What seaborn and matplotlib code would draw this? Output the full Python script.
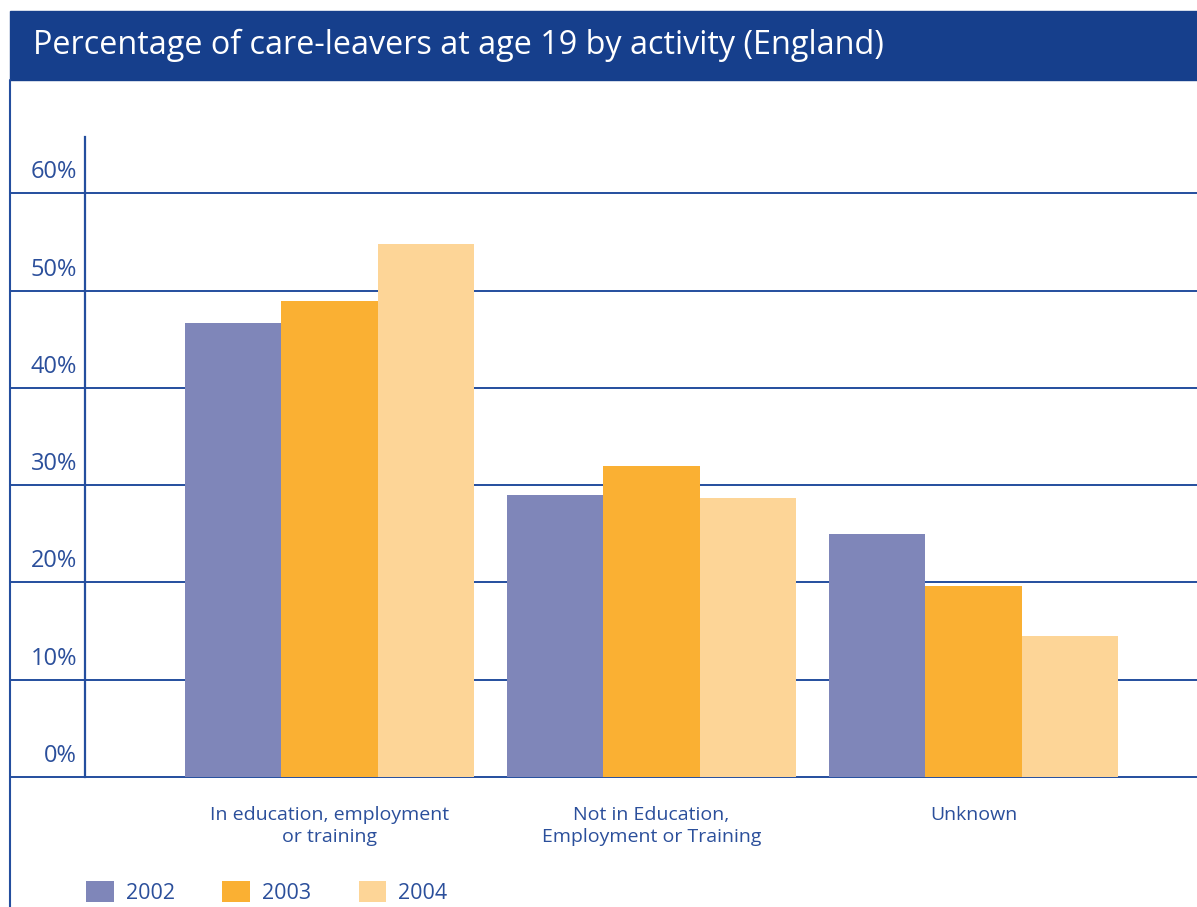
import matplotlib
matplotlib.use("Agg")
import matplotlib.pyplot as plt
import matplotlib.transforms as mtransforms
from matplotlib.patches import Rectangle
from matplotlib.lines import Line2D
import seaborn as sns
import pandas as pd

# ---- data ----
categories = ["In education, employment\nor training",
              "Not in Education,\nEmployment or Training",
              "Unknown"]
years = ["2002", "2003", "2004"]
values_2002 = [46.7, 29.0, 25.0]
values_2003 = [48.9, 32.0, 19.6]
values_2004 = [54.8, 28.7, 14.5]
y_ticks = [0, 10, 20, 30, 40, 50, 60]
y_tick_labels = ["0%", "10%", "20%", "30%", "40%", "50%", "60%"]
title = "Percentage of care-leavers at age 19 by activity (England)"

rows = []
for yr, vals in zip(years, [values_2002, values_2003, values_2004]):
    for c, v in zip(categories, vals):
        rows.append({"activity": c, "year": yr, "pct": v})
df = pd.DataFrame(rows)

# ---- style ----
sns.set_theme(style="white")
plt.rcParams["font.family"] = ["Open Sans", "DejaVu Sans"]

BLUE = "#244e9e"
TEXT = "#2b4f9b"
BANNER = "#163f8c"
palette = {"2002": "#7f86b9", "2003": "#fab033", "2004": "#fdd597"}

W, H = 1197, 907
fig = plt.figure(figsize=(W / 100, H / 100), dpi=100)
fig.patch.set_facecolor("white")

ax_left, ax_right, ax_top, ax_bot = 85, 1197, 137, 777
ax = fig.add_axes([ax_left / W, 1 - ax_bot / H, (ax_right - ax_left) / W, (ax_bot - ax_top) / H])

sns.barplot(data=df, x="activity", y="pct", hue="year", order=categories,
            hue_order=years, palette=palette, width=0.9, saturation=1,
            linewidth=0, ax=ax, zorder=3)

ax.set_ylim(0, 65.8)
ax.set_xlim(-0.759, 2.694)
ax.set_xlabel("")
ax.set_ylabel("")

for s in ["top", "right", "bottom"]:
    ax.spines[s].set_visible(False)
ax.spines["left"].set_color(BLUE)
ax.spines["left"].set_linewidth(1.6)

# gridlines extending to the left border
xleft = (10 - ax_left) / (ax_right - ax_left)
ytrans = ax.get_yaxis_transform()
for v in y_ticks:
    ax.plot([xleft, 1], [v, v], transform=ytrans, clip_on=False,
            color=BLUE, lw=1.4, zorder=1)

# y tick labels above the lines
ax.set_yticks(y_ticks)
ax.set_yticklabels([])
ax.tick_params(axis="y", length=0)
lab_trans = mtransforms.offset_copy(ytrans, fig=fig, x=-8, y=9, units="dots")
for v, lab in zip(y_ticks, y_tick_labels):
    ax.text(0, v, lab, transform=lab_trans, ha="right", va="bottom",
            fontsize=17, color=TEXT, clip_on=False)

# x tick labels
ax.tick_params(axis="x", length=0, pad=21, labelsize=14, labelcolor=TEXT)
for t in ax.get_xticklabels():
    t.set_linespacing(1.3)
    t.set_multialignment("center")

# legend
handles, labels = ax.get_legend_handles_labels()
ax.get_legend().remove()
fig.legend(handles, labels, loc="upper left",
           bbox_to_anchor=(86 / W, 1 - 881 / H), ncol=3, frameon=False,
           fontsize=15.5, labelcolor=TEXT, handlelength=1.3, handleheight=1.15,
           handletextpad=0.55, columnspacing=2.2, borderpad=0, borderaxespad=0)

# title banner
fig.patches.append(Rectangle((10 / W, 1 - 80 / H), (W - 10) / W, 69 / H,
                             transform=fig.transFigure, color=BANNER, zorder=0))
fig.text(33 / W, 1 - 45 / H, title, color="white", fontsize=23.3,
         va="center", ha="left")

# left border line
fig.lines.append(Line2D([10 / W, 10 / W], [0, 1 - 80 / H],
                        transform=fig.transFigure, color=BLUE, lw=1.5))

fig.savefig("out.png", dpi=100)
